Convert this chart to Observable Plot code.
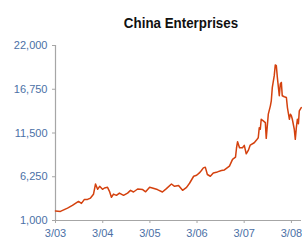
<!DOCTYPE html>
<html>
<head>
<meta charset="utf-8">
<script src="https://cdn.jsdelivr.net/npm/d3@7"></script>
<script src="https://cdn.jsdelivr.net/npm/@observablehq/plot@0.6"></script>
<style>
  html, body { margin: 0; padding: 0; background: #fff; }
  #wrap { width: 302px; height: 240px; position: relative; overflow: hidden; }
  #title { position: relative; height: 30px; width: 302px; }
  #title span {
    position: absolute; left: 181px; top: 14px;
    transform: translateX(-50%) scaleX(0.89);
    font-family: "Liberation Sans", Arial, sans-serif;
    font-weight: bold; font-size: 15px; line-height: 17px; color: #111; white-space: nowrap;
  }
</style>
</head>
<body>
<div id="wrap">
  <div id="title"><span>China Enterprises</span></div>
  <div id="chart"></div>
</div>
<script>
const title = "China Enterprises";
const dates = [
  "2003-03-01","2003-04-08","2003-06-02","2003-07-10","2003-08-26","2003-09-18","2003-10-11","2003-11-04","2003-11-27","2003-12-20",
  "2004-01-05","2004-01-21","2004-02-06","2004-02-28","2004-03-14","2004-04-07","2004-04-22","2004-05-07","2004-05-23","2004-06-15",
  "2004-07-08","2004-08-09","2004-09-09","2004-10-02","2004-10-25","2004-11-26","2005-01-04","2005-01-27","2005-02-27","2005-03-20",
  "2005-04-28","2005-06-06","2005-07-07","2005-08-15","2005-09-08","2005-10-09","2005-11-09","2005-12-10","2006-01-02","2006-02-03",
  "2006-02-26","2006-03-19","2006-04-04","2006-04-19","2006-05-04","2006-05-20","2006-06-12","2006-07-05","2006-08-06","2006-09-06",
  "2006-09-29","2006-11-07","2006-12-01","2006-12-24","2007-01-01","2007-01-09","2007-01-24","2007-02-16","2007-03-02","2007-03-17",
  "2007-04-02","2007-04-17","2007-05-18","2007-06-03","2007-06-18","2007-06-26","2007-07-04","2007-07-11","2007-07-27","2007-08-12",
  "2007-08-19","2007-09-04","2007-09-20","2007-09-27","2007-10-05","2007-10-20","2007-10-28","2007-11-05","2007-11-13","2007-11-28",
  "2007-12-06","2007-12-14","2007-12-21","2008-01-06","2008-01-22","2008-01-30","2008-02-14","2008-02-22","2008-03-01","2008-03-08",
  "2008-03-23","2008-03-31","2008-04-08","2008-04-16","2008-04-24","2008-05-01","2008-05-16"
];
const values = [
  2150,2090,2480,2810,3290,3050,3530,3530,3690,4140,
  5380,4740,5100,4740,4900,4980,4500,3780,4170,4020,
  4290,4020,4290,4620,4420,4780,4710,4440,4980,4900,
  4710,4420,4830,5380,5100,5190,4620,4980,5470,6310,
  6430,6710,7000,7310,7400,6520,6310,6710,6830,7000,
  7070,7520,8330,8600,9730,10450,9730,9730,10020,9000,
  9410,10050,10330,10620,10930,12140,11950,13150,12950,12740,
  10860,13760,14760,15360,16970,18380,19670,19590,18170,15970,
  17380,17570,15970,15850,15760,14550,13150,13760,13550,13150,
  11950,10740,12140,13150,12620,14160,14550
];
const yTicks = [1000, 6250, 11500, 16750, 22000];
const xTickDates = ["2003-03-01","2004-03-01","2005-03-01","2006-03-01","2007-03-01","2008-03-01"];
const xTickLabels = ["3/03","3/04","3/05","3/06","3/07","3/08"];
const xDomain = ["2003-03-01","2008-05-18"];

const data = dates.map((d, i) => ({date: new Date(d), value: values[i]}));
const xt = xTickDates.map(d => new Date(d));
const x0 = new Date(xDomain[0]);

const plot = Plot.plot({
  width: 302,
  height: 210,
  marginTop: 15,
  marginBottom: 20,
  marginLeft: 55,
  marginRight: 1,
  style: {fontFamily: "'Liberation Sans', Arial, sans-serif", fontSize: "11px", background: "transparent", overflow: "visible"},
  x: {type: "utc", domain: xDomain.map(d => new Date(d))},
  y: {domain: [yTicks[0], yTicks[yTicks.length - 1]]},
  marks: [
    Plot.ruleX([x0], {y1: yTicks[0], y2: yTicks[yTicks.length - 1], stroke: "#a6a6a6", strokeWidth: 1.2}),
    Plot.ruleY([yTicks[0]], {stroke: "#a6a6a6", strokeWidth: 1.2}),
    Plot.axisY({ticks: yTicks, tickFormat: d3.format(","), tickSize: 3, tickPadding: 5, stroke: "#a6a6a6", fill: "#4b70a6", label: null}),
    Plot.axisX({ticks: xt, tickFormat: d => xTickLabels[xt.findIndex(t => +t === +d)], tickSize: 3, tickPadding: 6, stroke: "#a6a6a6", fill: "#4b70a6", label: null, fontSize: 11}),
    Plot.lineY(data, {x: "date", y: "value", stroke: "#d4410e", strokeWidth: 1.5})
  ]
});
document.getElementById("chart").appendChild(plot);
</script>
</body>
</html>
